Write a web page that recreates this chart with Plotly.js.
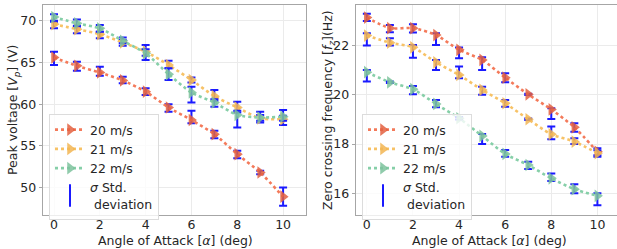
<!DOCTYPE html>
<html>
<head>
<meta charset="utf-8">
<script src="https://cdn.plot.ly/plotly-3.0.1.min.js"></script>
<style>html,body{margin:0;padding:0;background:#fff;}#chart{width:617px;height:249px;}</style>
</head>
<body>
<div id="chart"></div>
<script>
// ---- data ----
const angles = [0, 1, 2, 3, 4, 5, 6, 7, 8, 9, 10];
const seriesNames = ['20 m/s', '21 m/s', '22 m/s'];
const stdName = '<i>σ</i> Std.<br> deviation';
const xTitleText = 'Angle of Attack [<i>α</i>] (deg)';
const voltTitleText = 'Peak voltage [<i>V</i><sub><i>p</i></sub>] (V)';
const freqTitleText = 'Zero crossing frequency [<i>f</i><sub><i>z</i></sub>](Hz)';

// Peak voltage [V]
const volt20 = [65.6, 64.6, 63.8, 62.85, 61.5, 59.6, 58.1, 56.4, 54.0, 51.8, 48.9];
const volt20Lo = [64.7, 64.0, 63.4, 62.5, 61.1, 59.1, 57.7, 55.9, 53.5, 51.6, 47.8];
const volt20Hi = [66.3, 65.1, 64.5, 63.3, 61.9, 60.0, 59.2, 56.8, 54.4, 52.0, 50.0];
const volt21 = [69.6, 69.0, 68.4, 67.4, 66.3, 64.7, 62.9, 60.96, 59.6, 58.3, 58.2];
const volt21Lo = [69.1, 68.5, 67.9, 67.0, 65.8, 64.3, 62.6, 60.4, 59.0, 57.8, 57.5];
const volt21Hi = [69.9, 69.3, 68.7, 67.7, 67.1, 65.2, 63.2, 61.7, 60.3, 58.7, 58.6];
const volt22 = [70.45, 69.7, 69.1, 67.6, 66.1, 63.6, 61.4, 60.2, 58.7, 58.4, 58.5];
const volt22Lo = [70.0, 69.4, 68.7, 67.3, 65.3, 62.9, 60.2, 59.7, 57.2, 58.0, 58.0];
const volt22Hi = [70.8, 70.17, 69.5, 68.0, 66.6, 64.3, 62.1, 60.6, 59.2, 59.1, 59.3];

// Zero crossing frequency [Hz]
const freq20 = [23.14, 22.71, 22.71, 22.43, 21.83, 21.42, 20.7, 20.02, 19.41, 18.68, 17.69];
const freq20Lo = [23.0, 22.54, 22.53, 22.03, 21.49, 21.01, 20.51, 19.99, 19.02, 18.5, 17.55];
const freq20Hi = [23.29, 22.84, 22.87, 22.5, 21.92, 21.53, 20.88, 20.05, 19.46, 18.85, 17.83];
const freq21 = [22.41, 22.12, 21.93, 21.32, 20.81, 20.2, 19.66, 19.01, 18.4, 18.1, 17.63];
const freq21Lo = [22.0, 22.0, 21.51, 21.01, 20.67, 20.0, 19.52, 18.98, 18.2, 18.0, 17.49];
const freq21Hi = [22.5, 22.3, 22.03, 21.42, 21.15, 20.33, 19.79, 19.04, 18.71, 18.24, 17.75];
const freq22 = [20.92, 20.51, 20.23, 19.63, 19.05, 18.33, 17.6, 17.15, 16.61, 16.17, 15.9];
const freq22Lo = [20.54, 20.48, 20.02, 19.5, 19.0, 18.0, 17.49, 16.99, 16.5, 16.0, 15.52];
const freq22Hi = [21.01, 20.54, 20.36, 19.79, 19.1, 18.41, 17.76, 17.28, 16.81, 16.37, 16.0];

const voltTicks = [50, 55, 60, 65, 70];
const freqTicks = [16, 18, 20, 22];
const angleTicks = [0, 2, 4, 6, 8, 10];

// ---- styling ----
const lineColors = ['#f47a5a', '#f7c266', '#86cfa8'];
const markerColors = ['#e3603f', '#f2b552', '#7cc29c'];
const errColor = '#1a1aff';
const FONT = 'DejaVu Sans, sans-serif';
const fs = 12.5;
const txtFont = {family: FONT, size: fs, color: '#262626'};

function seriesTrace(y, lo, hi, i, xa, ya, leg) {
  return {
    x: angles, y: y, type: 'scatter', mode: 'lines+markers',
    name: seriesNames[i], legend: leg,
    xaxis: xa, yaxis: ya,
    line: {color: lineColors[i], width: 2.6, dash: 'dot', shape: 'spline', smoothing: 0.7},
    marker: {symbol: 'triangle-right', size: 11, color: markerColors[i], opacity: 0.85,
             line: {width: 0}},
    error_y: {type: 'data', symmetric: false,
              array: hi.map((h, k) => h - y[k]),
              arrayminus: lo.map((l, k) => y[k] - l),
              color: errColor, thickness: 2, width: 4}
  };
}
function stdTrace(xa, ya, leg) {
  return {x: [null], y: [null], type: 'scatter', mode: 'markers', name: stdName,
    legend: leg, xaxis: xa, yaxis: ya,
    marker: {symbol: 'line-ns-open', size: 16, color: errColor, line: {color: errColor, width: 2}}};
}

const traces = [
  seriesTrace(volt20, volt20Lo, volt20Hi, 0, 'x', 'y', 'legend'),
  seriesTrace(volt21, volt21Lo, volt21Hi, 1, 'x', 'y', 'legend'),
  seriesTrace(volt22, volt22Lo, volt22Hi, 2, 'x', 'y', 'legend'),
  stdTrace('x', 'y', 'legend'),
  seriesTrace(freq20, freq20Lo, freq20Hi, 0, 'x2', 'y2', 'legend2'),
  seriesTrace(freq21, freq21Lo, freq21Hi, 1, 'x2', 'y2', 'legend2'),
  seriesTrace(freq22, freq22Lo, freq22Hi, 2, 'x2', 'y2', 'legend2'),
  stdTrace('x2', 'y2', 'legend2')
];

const axBase = {
  showline: true, mirror: true, linecolor: '#a6a6a6', linewidth: 1.3,
  showgrid: true, gridcolor: '#ebebeb', gridwidth: 1,
  zeroline: false, ticks: 'outside', ticklen: 3, tickcolor: '#a6a6a6',
  tickfont: txtFont
};
const xAxBase = Object.assign({}, axBase, {ticks: '', ticklen: 0, ticklabelstandoff: -2});
const legBase = {
  bgcolor: 'rgba(255,255,255,0.8)', bordercolor: '#dcdcdc', borderwidth: 1,
  font: txtFont, xanchor: 'left', yanchor: 'top', tracegroupgap: 0, itemwidth: 30
};
function titleAnn(text, x, y, angle) {
  return {text: text, x: x, y: y, xref: 'paper', yref: 'paper', showarrow: false,
    xanchor: 'center', yanchor: 'middle', textangle: angle, font: txtFont};
}

const layout = {
  width: 617, height: 249,
  margin: {l: 0, r: 0, t: 0, b: 0},
  paper_bgcolor: '#fff', plot_bgcolor: '#fff',
  font: txtFont,
  xaxis: Object.assign({}, xAxBase, {domain: [43/617, 306/617], range: [-0.48, 11.0],
    tickvals: angleTicks, anchor: 'y'}),
  yaxis: Object.assign({}, axBase, {domain: [1 - 215/249, 1 - 5/249], range: [46.7, 71.9],
    tickvals: voltTicks, anchor: 'x'}),
  xaxis2: Object.assign({}, xAxBase, {domain: [356/617, 1], range: [-0.47, 10.85],
    tickvals: angleTicks, anchor: 'y2'}),
  yaxis2: Object.assign({}, axBase, {domain: [1 - 215/249, 1 - 5/249], range: [15.12, 23.65],
    tickvals: freqTicks, anchor: 'x2'}),
  legend: Object.assign({}, legBase, {x: 49/617, y: 1 - 114/249}),
  legend2: Object.assign({}, legBase, {x: 362/617, y: 1 - 114/249}),
  annotations: [
    titleAnn(xTitleText, 175/617, 1 - 240/249, 0),
    titleAnn(xTitleText, 489/617, 1 - 240/249, 0),
    titleAnn(voltTitleText, 14/617, 1 - 110/249, -90),
    titleAnn(freqTitleText, 329/617, 1 - 110/249, -90)
  ],
  showlegend: true
};

Plotly.newPlot('chart', traces, layout, {displayModeBar: false, staticPlot: true});
</script>
</body>
</html>
